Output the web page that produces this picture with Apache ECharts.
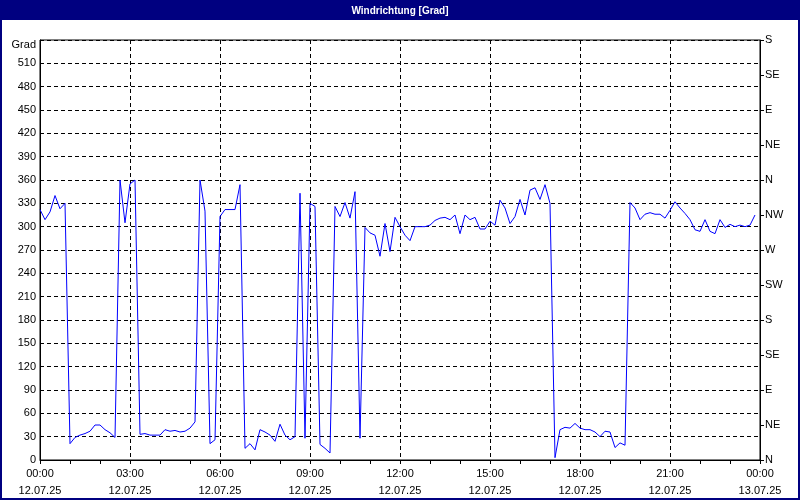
<!DOCTYPE html>
<html>
<head>
<meta charset="utf-8">
<script src="https://cdn.jsdelivr.net/npm/echarts@6/dist/echarts.min.js"></script>
<style>
html,body{margin:0;padding:0;background:#fff;}
#c{width:800px;height:500px;}
</style>
</head>
<body>
<div id="c"></div>
<script>
// Wind direction samples, every 10 minutes from 12.07.25 00:00
const stepMinutes = 10;
const windDir = [
 322,309,319,340,323,330,21,29,32,34,37,45,45,39,35,29,
 360,305,355,360,33,34,32,32,32,39,37,38,36,37,41,49,
 360,320,21,26,313,322,322,322,354,15,21,13,39,36,32,24,
 46,32,26,30,343,28,330,326,20,15,9,326,313,331,311,345,
 28,299,292,289,262,304,268,312,300,289,282,300,300,300,302,308,
 311,312,309,315,291,315,309,312,297,297,307,302,334,324,304,313,
 335,315,347,350,335,354,330,3,39,42,41,47,41,39,39,36,
 30,37,36,16,22,19,331,324,309,316,318,316,316,311,321,332,
 324,317,309,296,294,309,294,291,309,299,303,300,302,300,302,315
];
const dateLabels = ['12.07.25', '13.07.25'];
const dirLabels = ['N','NE','E','SE','S','SW','W','NW','N','NE','E','SE','S'];
const leftTopLabel = 'Grad';
const titleText = 'Windrichtung [Grad]';

const seriesData = windDir.map((v, i) => [i * stepMinutes / 60, v]);

const FONT = "'Liberation Sans Narrow', 'Liberation Sans', Arial, sans-serif";
const chart = echarts.init(document.getElementById('c'), null, {renderer: 'canvas'});
chart.setOption({
  animation: false,
  backgroundColor: '#ffffff',
  title: {
    text: titleText,
    left: 'center',
    top: 1,
    z: 20,
    textStyle: {color: '#ffffff', fontSize: 10, fontWeight: 'bold', fontFamily: "'Liberation Sans', Arial, sans-serif"}
  },
  graphic: [
    {type: 'rect', z: 1, shape: {x: 0, y: 0, width: 800, height: 20}, style: {fill: '#000080'}},
    {type: 'rect', z: 1, shape: {x: 1, y: 1, width: 798, height: 498}, style: {fill: 'none', stroke: '#000080', lineWidth: 2}}
  ],
  grid: {left: 40, right: 40, top: 40, bottom: 40, show: true, borderColor: '#000', borderWidth: 1, backgroundColor: 'transparent'},
  xAxis: {
    type: 'value',
    min: 0, max: 24, interval: 3,
    axisLine: {show: true, lineStyle: {color: '#000', width: 1}},
    axisTick: {show: true, length: 4, lineStyle: {color: '#000'}},
    minorTick: {show: true, splitNumber: 3, length: 4, lineStyle: {color: '#000'}},
    splitLine: {show: true, lineStyle: {color: '#000', type: [4, 3], width: 1}},
    axisLabel: {
      margin: 5, color: '#000', fontSize: 11, lineHeight: 17, fontFamily: FONT,
      showMinLabel: true, showMaxLabel: true,
      formatter: function (v) {
        const h = Math.round(v);
        const hh = String(h % 24).padStart(2, '0') + ':00';
        return hh + '\n' + (h >= 24 ? dateLabels[1] : dateLabels[0]);
      }
    }
  },
  yAxis: [
    {
      type: 'value', min: 0, max: 540, interval: 30, position: 'left',
      axisLine: {show: true, lineStyle: {color: '#000'}},
      axisTick: {show: false},
      splitLine: {show: true, lineStyle: {color: '#000', type: [4, 3], width: 1}},
      axisLabel: {
        margin: 4, color: '#000', fontSize: 11, fontFamily: FONT,
        formatter: function (v) { return v === 540 ? '{g|' + leftTopLabel + '}' : String(v); },
        rich: {g: {fontSize: 11, fontFamily: FONT, color: '#000', padding: [10, 0, 0, 0]}}
      }
    },
    {
      type: 'value', min: 0, max: 540, interval: 45, position: 'right',
      axisLine: {show: true, lineStyle: {color: '#000'}},
      axisTick: {show: true, length: 4, inside: false, lineStyle: {color: '#000'}},
      splitLine: {show: false},
      axisLabel: {
        margin: 5, color: '#000', fontSize: 11, fontFamily: FONT,
        formatter: function (v) { return dirLabels[Math.round(v / 45)] || ''; }
      }
    }
  ],
  series: [{
    type: 'line',
    data: seriesData,
    showSymbol: false,
    symbol: 'none',
    lineStyle: {color: '#0000ff', width: 1},
    z: 5
  }]
});
</script>
</body>
</html>
